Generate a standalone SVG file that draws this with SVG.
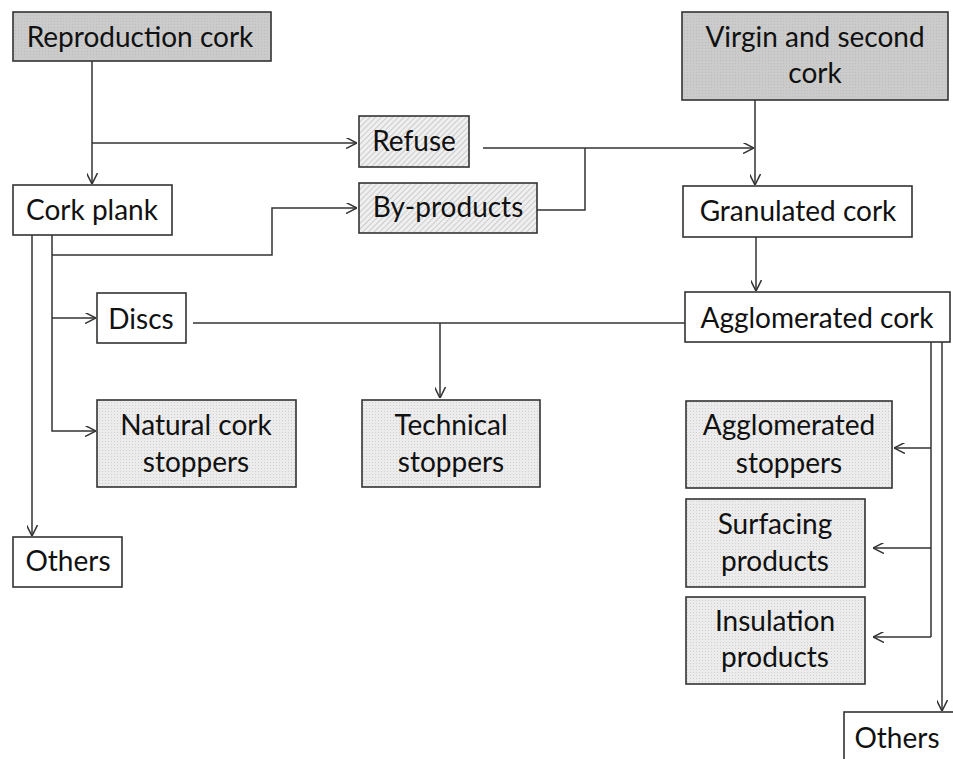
<svg xmlns="http://www.w3.org/2000/svg" width="953" height="759" viewBox="0 0 953 759">
<defs>
<pattern id="hatch" width="4" height="4" patternUnits="userSpaceOnUse" patternTransform="rotate(45)">
<rect width="4" height="4" fill="#efefef"/>
<line x1="0" y1="0" x2="0" y2="4" stroke="#b4b4b4" stroke-width="1.2"/>
</pattern>
<pattern id="dots" width="3" height="3" patternUnits="userSpaceOnUse">
<rect width="3" height="3" fill="#ececec"/>
<rect width="1" height="1" fill="#cfcfcf"/>
</pattern>
<pattern id="dark" width="3" height="3" patternUnits="userSpaceOnUse">
<rect width="3" height="3" fill="#cbcbcb"/>
<rect width="1" height="1" fill="#bdbdbd"/>
</pattern>
<marker id="arr" viewBox="0 0 10 10" refX="10" refY="5" markerWidth="11" markerHeight="11" markerUnits="userSpaceOnUse" orient="auto">
<path d="M0,0 L10,5 L0,10" fill="none" stroke="#333" stroke-width="1.4"/>
</marker>
</defs>
<style>
.box{stroke:#333;stroke-width:1.6}
.w{fill:#fff}
.g{fill:url(#dark)}
.h{fill:url(#hatch)}
.d{fill:url(#dots)}
text{font-family:Lato,"Open Sans","Liberation Sans",sans-serif;font-size:28px;fill:#111;text-anchor:middle}
.c path{fill:none;stroke:#333;stroke-width:1.5}
</style>
<rect width="953" height="759" fill="#fff"/>

<g id="reproduction"><rect class="box g" x="13" y="12" width="258" height="49"/><text x="140" y="47">Reproduction cork</text></g>
<g id="virgin"><rect class="box g" x="682" y="12" width="266" height="88"/><text x="815" y="47">Virgin and second</text><text x="815" y="83">cork</text></g>
<g id="corkplank"><rect class="box w" x="13" y="185" width="159" height="50"/><text x="92" y="220">Cork plank</text></g>
<g id="refuse"><rect class="box h" x="359" y="116" width="110" height="51"/><text x="414" y="151">Refuse</text></g>
<g id="byproducts"><rect class="box h" x="359" y="183" width="178" height="50"/><text x="448" y="217">By-products</text></g>
<g id="granulated"><rect class="box w" x="683" y="186" width="229" height="51"/><text x="798" y="221">Granulated cork</text></g>
<g id="discs"><rect class="box w" x="97" y="293" width="89" height="50"/><text x="141" y="329">Discs</text></g>
<g id="agglomerated"><rect class="box w" x="685" y="292" width="265" height="50"/><text x="817" y="328">Agglomerated cork</text></g>
<g id="natural"><rect class="box d" x="97" y="400" width="199" height="87"/><text x="196" y="435">Natural cork</text><text x="196" y="472">stoppers</text></g>
<g id="technical"><rect class="box d" x="362" y="400" width="178" height="87"/><text x="451" y="435">Technical</text><text x="451" y="472">stoppers</text></g>
<g id="aggstoppers"><rect class="box d" x="686" y="401" width="206" height="87"/><text x="789" y="435">Agglomerated</text><text x="789" y="473">stoppers</text></g>
<g id="surfacing"><rect class="box d" x="686" y="499" width="179" height="88"/><text x="775" y="534">Surfacing</text><text x="775" y="571">products</text></g>
<g id="insulation"><rect class="box d" x="686" y="597" width="179" height="87"/><text x="775" y="631">Insulation</text><text x="775" y="667">products</text></g>
<g id="others-left"><rect class="box w" x="13" y="537" width="109" height="50"/><text x="68" y="571">Others</text></g>
<g id="others-right"><rect class="box w" x="844" y="712" width="115" height="55"/><text x="897" y="748">Others</text></g>

<g id="connectors" class="c">
<path d="M92,61 V184" marker-end="url(#arr)"/>
<path d="M92,143 H357" marker-end="url(#arr)"/>
<path d="M483,148 H754" marker-end="url(#arr)"/>
<path d="M537,210 H585 V148"/>
<path d="M755,100 V185" marker-end="url(#arr)"/>
<path d="M756,237 V291" marker-end="url(#arr)"/>
<path d="M52,235 V431 H96" marker-end="url(#arr)"/>
<path d="M52,255 H272 V208 H357" marker-end="url(#arr)"/>
<path d="M52,318 H96" marker-end="url(#arr)"/>
<path d="M32,235 V536" marker-end="url(#arr)"/>
<path d="M193,323 H685"/>
<path d="M440,323 V398" marker-end="url(#arr)"/>
<path d="M931,342 V637"/>
<path d="M931,448 H894" marker-end="url(#arr)"/>
<path d="M931,548 H873" marker-end="url(#arr)"/>
<path d="M931,637 H873" marker-end="url(#arr)"/>
<path d="M942,342 V711" marker-end="url(#arr)"/>
</g>
</svg>
